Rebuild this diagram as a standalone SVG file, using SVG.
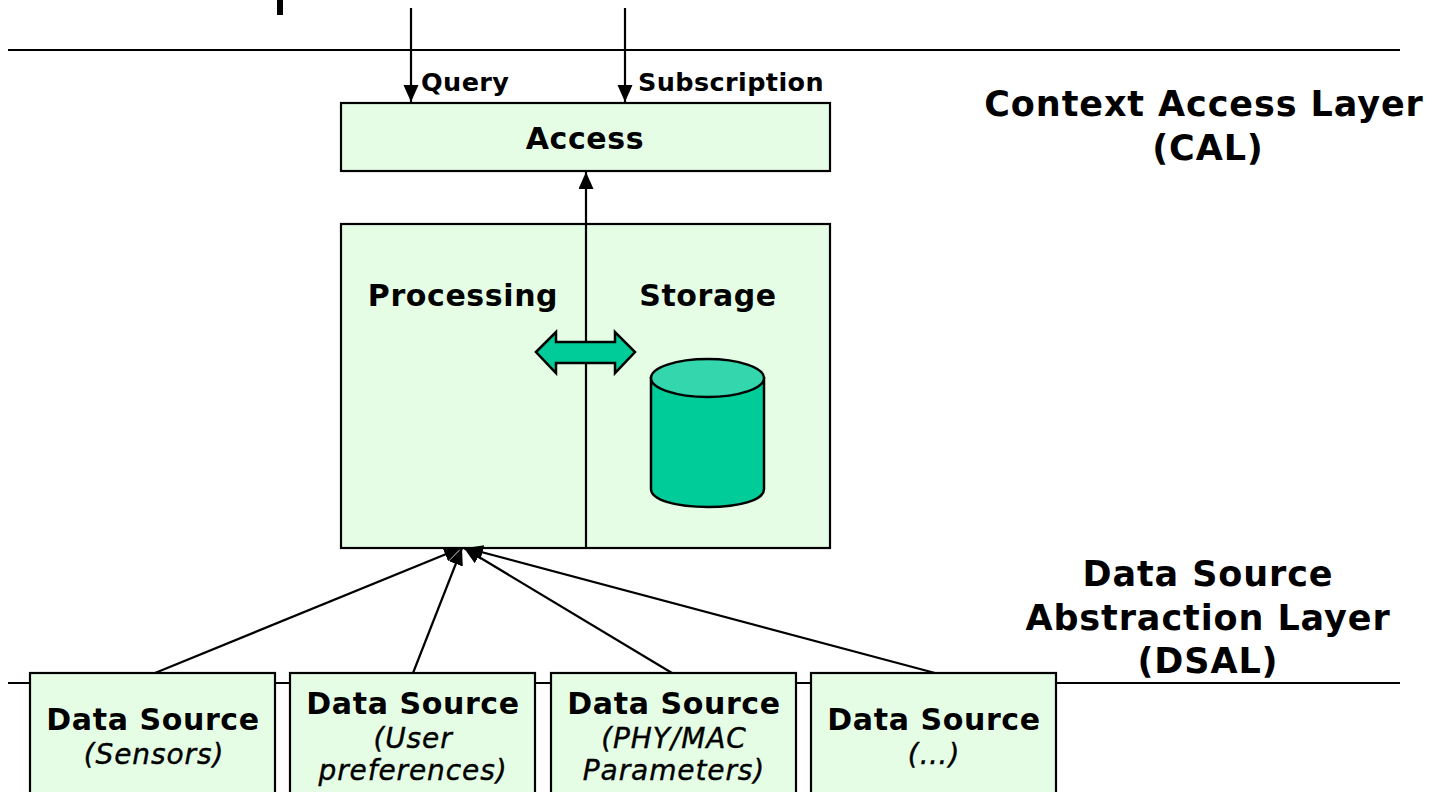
<svg xmlns="http://www.w3.org/2000/svg" width="1437" height="792" viewBox="0 0 1437 792">
<style>
text{font-family:"DejaVu Sans",Verdana,sans-serif;fill:#000;text-anchor:middle}
.b{font-weight:bold;font-size:30px;letter-spacing:.6px}
.l{font-weight:bold;font-size:35px;letter-spacing:.9px}
.q{font-weight:bold;font-size:25.500px;letter-spacing:.4px;text-anchor:start}
.i{font-style:italic;font-size:28px;letter-spacing:.9px;stroke:#000;stroke-width:.4px}
.box{fill:#e5fde5;stroke:#000;stroke-width:2.200}
.ln{stroke:#000;stroke-width:2.200;fill:none}
.g{fill:#00cc99;stroke:#000;stroke-width:2.500}
</style>
<defs>
<marker id="a" markerUnits="userSpaceOnUse" markerWidth="18" markerHeight="16" refX="17" refY="7.500" orient="auto"><path d="M0 0L17 7.500L0 15Z" fill="#000"/></marker>
</defs>
<rect width="1437" height="792" fill="#fff"/>
<rect x="277" y="0" width="6" height="15" fill="#000"/>
<g id="layers">
<path class="ln" d="M8 50H1400M8 683H1400"/>
</g>
<g id="access"><rect class="box" x="341" y="103" width="489" height="68"/><text class="b" x="585" y="149">Access</text></g>
<g id="core"><rect class="box" x="341" y="224" width="489" height="324"/>
<text class="b" x="463" y="306">Processing</text><text class="b" x="708" y="306">Storage</text></g>
<g id="connectors">
<path class="ln" d="M411 8V102" marker-end="url(#a)"/>
<path class="ln" d="M625 8V102" marker-end="url(#a)"/>
<path class="ln" d="M586 548V172" marker-end="url(#a)"/>
<path class="ln" d="M155 673L461 548" marker-end="url(#a)"/>
<path class="ln" d="M413 673L462 548" marker-end="url(#a)"/>
<path class="ln" d="M672 673L464 548" marker-end="url(#a)"/>
<path class="ln" d="M935 673L466 548" marker-end="url(#a)"/>
</g>
<g id="labels"><text class="q" x="421" y="91">Query</text><text class="q" x="638" y="91">Subscription</text></g>
<g id="exchange"><path class="g" d="M536 352L556 332V342H615V332L635 352L615 373V363H556V373Z"/></g>
<g id="storage">
<path class="g" d="M651 378V489C651 500 676 507 708 507S764 500 764 489V378Z"/>
<ellipse cx="707.500" cy="378" rx="56.500" ry="19" fill="#33d6ad" stroke="#000" stroke-width="2.500"/>
</g>
<g id="ds1"><rect class="box" x="30" y="673" width="245" height="130"/><text class="b" x="153" y="730">Data Source</text><text class="i" x="154" y="764">(Sensors)</text></g>
<g id="ds2"><rect class="box" x="290" y="673" width="245" height="130"/><text class="b" x="413" y="714">Data Source</text><text class="i" x="413" y="748">(User</text><text class="i" x="413" y="780">preferences)</text></g>
<g id="ds3"><rect class="box" x="551" y="673" width="245" height="130"/><text class="b" x="674" y="714">Data Source</text><text class="i" x="674" y="748">(PHY/MAC</text><text class="i" x="674" y="780">Parameters)</text></g>
<g id="ds4"><rect class="box" x="811" y="673" width="245" height="130"/><text class="b" x="934" y="730">Data Source</text><text class="i" x="934" y="764">(…)</text></g>
<g id="cal"><text class="l" x="1204" y="116">Context Access Layer</text><text class="l" x="1208" y="160">(CAL)</text></g>
<g id="dsal"><text class="l" x="1208" y="586" >Data Source</text><text class="l" x="1208" y="630">Abstraction Layer</text><text class="l" x="1208" y="673">(DSAL)</text></g>
</svg>
